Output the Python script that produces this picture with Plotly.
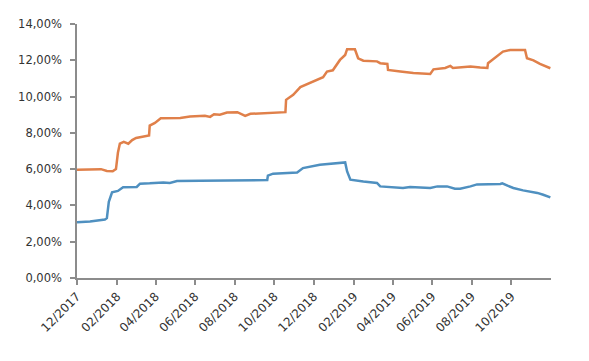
import plotly.graph_objects as go

orange_dates = ["2017-12-01","2018-01-07","2018-01-16","2018-01-25","2018-01-30","2018-02-02","2018-02-05","2018-02-11","2018-02-18","2018-02-24","2018-03-02","2018-03-22","2018-03-23","2018-03-31","2018-04-09","2018-05-09","2018-05-24","2018-06-16","2018-06-24","2018-06-30","2018-07-09","2018-07-20","2018-08-05","2018-08-17","2018-08-25","2018-09-20","2018-10-18","2018-10-19","2018-10-30","2018-11-10","2018-11-30","2018-12-15","2018-12-21","2018-12-30","2019-01-10","2019-01-18","2019-01-21","2019-02-02","2019-02-07","2019-02-15","2019-03-08","2019-03-13","2019-03-24","2019-03-25","2019-04-13","2019-05-03","2019-05-29","2019-06-03","2019-06-21","2019-06-29","2019-07-03","2019-07-30","2019-08-14","2019-08-25","2019-08-26","2019-09-09","2019-09-18","2019-09-29","2019-10-22","2019-10-25","2019-11-04","2019-11-14","2019-11-25","2019-11-30"]
orange_values = [5.97,6.0,5.9,5.88,6.0,6.9,7.4,7.5,7.4,7.6,7.72,7.86,8.4,8.55,8.8,8.82,8.9,8.94,8.88,9.03,9.0,9.12,9.14,8.94,9.05,9.08,9.14,9.82,10.1,10.52,10.83,11.07,11.38,11.45,12.02,12.29,12.61,12.61,12.11,11.98,11.94,11.84,11.8,11.47,11.38,11.3,11.25,11.5,11.58,11.69,11.58,11.66,11.6,11.58,11.84,12.2,12.48,12.57,12.57,12.11,12.0,11.8,11.65,11.56]

blue_dates = ["2017-12-01","2017-12-21","2018-01-13","2018-01-16","2018-01-19","2018-01-24","2018-02-02","2018-02-10","2018-03-03","2018-03-08","2018-03-23","2018-04-13","2018-04-23","2018-05-04","2018-06-09","2018-07-25","2018-08-25","2018-09-20","2018-09-21","2018-09-29","2018-11-05","2018-11-14","2018-12-10","2018-12-30","2019-01-18","2019-01-21","2019-01-26","2019-02-15","2019-03-08","2019-03-13","2019-04-17","2019-04-28","2019-05-14","2019-05-29","2019-06-09","2019-06-24","2019-07-06","2019-07-14","2019-07-30","2019-08-09","2019-09-14","2019-09-17","2019-09-25","2019-10-04","2019-10-19","2019-11-10","2019-11-19","2019-11-25","2019-11-30"]
blue_values = [3.07,3.12,3.22,3.3,4.2,4.72,4.8,5.0,5.02,5.2,5.22,5.27,5.24,5.34,5.36,5.38,5.36,5.4,5.64,5.75,5.82,6.06,6.24,6.3,6.37,5.87,5.42,5.32,5.24,5.05,4.96,5.02,5.0,4.96,5.05,5.05,4.92,4.92,5.05,5.16,5.18,5.22,5.09,4.96,4.83,4.69,4.59,4.5,4.44]

y_ticks = [0, 2, 4, 6, 8, 10, 12, 14]
y_tick_labels = ["0,00%", "2,00%", "4,00%", "6,00%", "8,00%", "10,00%", "12,00%", "14,00%"]
x_tick_dates = ["2017-12-01","2018-02-01","2018-04-01","2018-06-01","2018-08-01","2018-10-01","2018-12-01","2019-02-01","2019-04-01","2019-06-01","2019-08-01","2019-10-01"]
x_tick_labels = ["12/2017","02/2018","04/2018","06/2018","08/2018","10/2018","12/2018","02/2019","04/2019","06/2019","08/2019","10/2019"]

fig = go.Figure()
fig.add_trace(go.Scatter(x=orange_dates, y=orange_values, mode="lines",
                         line=dict(color="#E0804A", width=2.5), showlegend=False))
fig.add_trace(go.Scatter(x=blue_dates, y=blue_values, mode="lines",
                         line=dict(color="#4F90C0", width=2.5), showlegend=False))

fig.update_layout(
    width=589, height=361,
    margin=dict(l=77, r=38, t=24, b=83),
    plot_bgcolor="white", paper_bgcolor="white",
    font=dict(family="DejaVu Sans", size=12, color="#333333"),
)
fig.update_xaxes(
    type="date", range=["2017-12-01", "2019-12-01"],
    tickvals=x_tick_dates, ticktext=x_tick_labels, tickangle=-45,
    showgrid=False, zeroline=False,
    showline=True, linecolor="#8C8C8C", linewidth=1.5,
    ticks="outside", ticklen=5, tickcolor="#8C8C8C", tickwidth=1.5,
    tickfont=dict(size=12),
)
fig.update_yaxes(
    range=[0, 14], tickvals=y_ticks, ticktext=y_tick_labels,
    showgrid=False, zeroline=False,
    showline=True, linecolor="#8C8C8C", linewidth=1.5,
    ticks="outside", ticklen=5, tickcolor="#8C8C8C", tickwidth=1.5,
    tickfont=dict(size=11.5), ticklabelstandoff=6,
)
fig.write_html("out.html")
